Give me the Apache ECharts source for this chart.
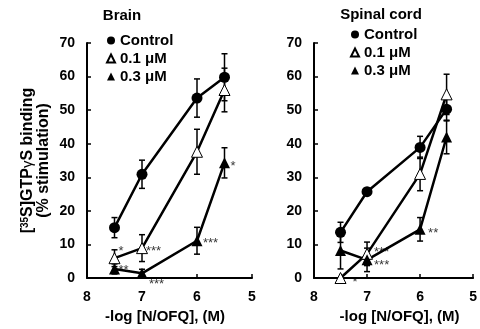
<!DOCTYPE html>
<html>
<head>
<meta charset="utf-8">
<script src="https://cdn.jsdelivr.net/npm/echarts@6/dist/echarts.min.js"></script>
<style>
  html, body { margin: 0; padding: 0; background: #fff; }
  #chart { width: 480px; height: 329px; }
</style>
</head>
<body>
<div id="chart"></div>
<script>
  // -log [N/OFQ] (M)
  let doses = [7.5, 7, 6, 5.5];
  let xTicks = [8, 7, 6, 5];
  let seriesNames = ['Control', '0.1 μM', '0.3 μM'];

  // Brain, % stimulation and SEM
  let brainControl = [15, 30.9, 53.6, 59.8];
  let brainControlErr = [3, 4.2, 5.7, 7];
  let brainLow = [5.9, 8.9, 37.6, 56];
  let brainLowErr = [2.5, 4, 6.7, 6.5];
  let brainHigh = [2.7, 1.4, 11.1, 34.3];
  let brainHighErr = [1.5, 1.2, 4, 4.5];
  // [series index, dose index, stars]
  let brainStars = [[1, 0, '*'], [1, 1, '***'], [2, 0, '**'], [2, 1, '***'], [2, 2, '***'], [2, 3, '*']];

  // Spinal cord
  let spinalControl = [13.6, 25.7, 38.9, 50.3];
  let spinalControlErr = [3, 1, 3.3, 3.5];
  let spinalLow = [0, 7.2, 31, 54.7];
  let spinalLowErr = [0, 3.5, 5, 6];
  let spinalHigh = [8.2, 5.4, 14.5, 42];
  let spinalHighErr = [5.5, 3.5, 3.5, 5];
  let spinalStars = [[1, 0, '*'], [1, 1, '***'], [2, 1, '***'], [2, 2, '**']];

  let font = "'Liberation Sans', Arial, sans-serif";

  let chart = echarts.init(document.getElementById('chart'), null, {renderer: 'canvas'});

  let symbols = [
    {symbol: 'circle', size: 11, itemStyle: {color: '#000'}},
    {symbol: 'triangle', size: 11, itemStyle: {color: '#fff', borderColor: '#000', borderWidth: 1}},
    {symbol: 'triangle', size: 11, itemStyle: {color: '#000'}}
  ];

  function pairs(vals){
    return doses.map(function(d, i){ return [d, vals[i]]; });
  }
  function errPairs(vals, errs){
    return doses.map(function(d, i){ return [d, vals[i] - errs[i], vals[i] + errs[i]]; });
  }

  function renderErr(params, api){
    let x = api.value(0);
    let lo = api.coord([x, api.value(1)]);
    let hi = api.coord([x, api.value(2)]);
    let w = 3;
    let st = {stroke: '#000', lineWidth: 1.5};
    return {
      type: 'group',
      children: [
        {type: 'line', shape: {x1: lo[0], y1: lo[1], x2: hi[0], y2: hi[1]}, style: st},
        {type: 'line', shape: {x1: lo[0] - w, y1: lo[1], x2: lo[0] + w, y2: lo[1]}, style: st},
        {type: 'line', shape: {x1: hi[0] - w, y1: hi[1], x2: hi[0] + w, y2: hi[1]}, style: st}
      ]
    };
  }

  // label offsets for the asterisks, same order as the star lists
  let brainStarOffsets = [[0, -7], [0, 3], [0, 1], [3, 11], [2, 3], [2, 4]];
  let spinalStarOffsets = [[8, 4], [3, -1], [3, 6], [4, 4]];

  function buildPanel(idx, vals, errs, stars, offsets){
    let out = [];
    for (let s = 0; s < 3; s++) {
      out.push({
        type: 'custom',
        xAxisIndex: idx, yAxisIndex: idx,
        renderItem: renderErr,
        encode: {x: 0, y: [1, 2]},
        data: errPairs(vals[s], errs[s]),
        z: 2,
        silent: true
      });
    }
    for (let s = 0; s < 3; s++) {
      out.push({
        name: seriesNames[s],
        type: 'line',
        xAxisIndex: idx, yAxisIndex: idx,
        symbol: symbols[s].symbol,
        symbolSize: symbols[s].size,
        showAllSymbol: true,
        itemStyle: symbols[s].itemStyle,
        lineStyle: {color: '#000', width: 2.5},
        data: pairs(vals[s]),
        z: 3
      });
    }
    out.push({
      type: 'scatter',
      xAxisIndex: idx, yAxisIndex: idx,
      symbolSize: 0,
      silent: true,
      z: 4,
      data: stars.map(function(st, k){
        return {
          value: [doses[st[1]], vals[st[0]][st[1]]],
          label: {show: true, position: 'right', distance: 4, offset: offsets[k], formatter: st[2],
            fontSize: 13, color: '#000', fontFamily: font}
        };
      })
    });
    return out;
  }

  let axisCommon = {
    axisLine: {show: true, onZero: false, lineStyle: {color: '#000', width: 2}},
    axisTick: {show: true, inside: true, length: 4, lineStyle: {color: '#000', width: 1.5}},
    splitLine: {show: false},
    axisLabel: {color: '#000', fontSize: 14, fontWeight: 'bold', fontFamily: font, margin: 12}
  };

  function xAxis(idx, pad){
    return Object.assign({}, axisCommon, {
      gridIndex: idx, type: 'value', min: 5, max: 8, interval: 1, inverse: true,
      name: '-log [N/OFQ], (M)', nameLocation: 'middle', nameGap: 31,
      nameTextStyle: {color: '#000', fontSize: 15, fontWeight: 'bold', fontFamily: font, padding: pad},
      axisLabel: Object.assign({}, axisCommon.axisLabel, {
        formatter: function(v){ return xTicks.indexOf(v) >= 0 ? String(v) : ''; }
      })
    });
  }
  function yAxis(idx){
    return Object.assign({}, axisCommon, {
      gridIndex: idx, type: 'value', min: 0, max: 70, interval: 10
    });
  }

  let yBrain = yAxis(0);
  yBrain.name = '{n|[}{s|35}{n|S]GTP}{g|γ}{n|S binding}\n{n|(% stimulation)}';
  yBrain.nameLocation = 'middle';
  yBrain.nameGap = 35;
  yBrain.nameTextStyle = {
    color: '#000', fontFamily: font, lineHeight: 16, padding: [0, 0, 0, 0],
    rich: {
      n: {fontSize: 16, fontWeight: 'bold', fontFamily: font, color: '#000', lineHeight: 16},
      s: {fontSize: 10, fontWeight: 'bold', fontFamily: font, color: '#000', verticalAlign: 'top', lineHeight: 16},
      g: {fontSize: 15, fontFamily: font, color: '#000', lineHeight: 16}
    }
  };

  let legendText = {fontSize: 15, fontWeight: 'bold', color: '#000', fontFamily: font};
  let legendData = [{name: seriesNames[0], icon: 'circle'}, {name: seriesNames[1], icon: 'triangle'}, {name: seriesNames[2], icon: 'triangle'}];

  let option = {
    backgroundColor: '#fff',
    animation: false,
    textStyle: {fontFamily: font},
    title: [
      {text: 'Brain', left: 117, top: 3, textAlign: 'center',
        textStyle: {fontSize: 15, fontWeight: 'bold', color: '#000', fontFamily: font}},
      {text: 'Spinal cord', left: 376, top: 2, textAlign: 'center',
        textStyle: {fontSize: 15, fontWeight: 'bold', color: '#000', fontFamily: font}}
    ],
    legend: [
      {left: 101, top: 28, orient: 'vertical', itemGap: 3, itemWidth: 8, itemHeight: 8,
        selectedMode: false, data: legendData, textStyle: legendText},
      {left: 345, top: 22, orient: 'vertical', itemGap: 3, itemWidth: 8, itemHeight: 8,
        selectedMode: false, data: legendData, textStyle: legendText}
    ],
    grid: [
      {left: 87, right: 228, top: 43, bottom: 50},
      {left: 314, right: 3, top: 43, bottom: 51}
    ],
    xAxis: [xAxis(0, [0, 9, 0, 0]), xAxis(1, [0, 0, 0, 12])],
    yAxis: [yBrain, yAxis(1)],
    series: [].concat(
      buildPanel(0, [brainControl, brainLow, brainHigh], [brainControlErr, brainLowErr, brainHighErr], brainStars, brainStarOffsets),
      buildPanel(1, [spinalControl, spinalLow, spinalHigh], [spinalControlErr, spinalLowErr, spinalHighErr], spinalStars, spinalStarOffsets)
    )
  };

  chart.setOption(option);
</script>
</body>
</html>
